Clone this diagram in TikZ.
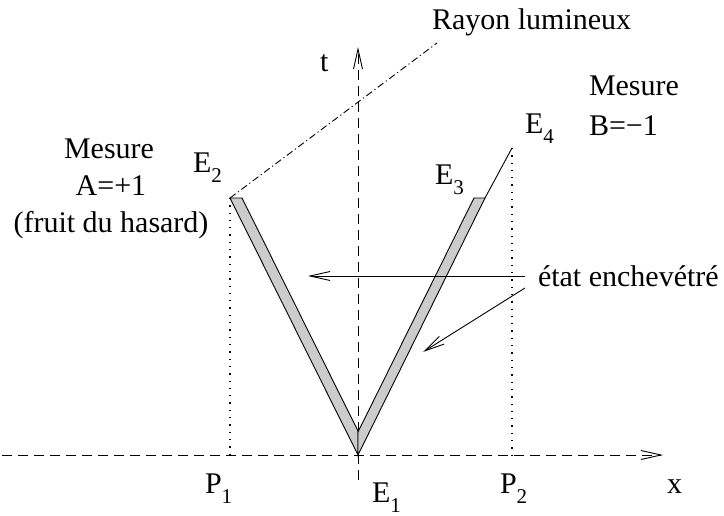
\documentclass[tikz,border=0pt]{standalone}
\usepackage{fontspec}
\setmainfont{Liberation Serif}
\usetikzlibrary{arrows.meta}
\definecolor{barfill}{RGB}{204,204,204}
\newcommand{\idx}[1]{\raisebox{-10pt}{\fontsize{21}{21}\selectfont #1}}
\begin{document}
\begin{tikzpicture}[x=1pt,y=-1pt,
  lbl/.style={anchor=base west,inner sep=0pt,outer sep=0pt,font=\fontsize{30}{36}\selectfont},
  clbl/.style={anchor=base,inner sep=0pt,outer sep=0pt,font=\fontsize{30}{36}\selectfont},
  line/.style={line width=0.9pt},
  axis/.style={line width=0.9pt,dash pattern=on 10pt off 6pt},
  tip/.style={-{Straight Barb[length=20pt,width=9pt,line width=0.9pt]}},
  dot/.style={line width=1.3pt,dash pattern=on 1.3pt off 6pt},
  ray/.style={line width=0.9pt,dash pattern=on 7pt off 3pt on 1.2pt off 3pt},
  bar/.style={line width=0.9pt,fill=barfill,line join=miter}]
\useasboundingbox (0,0) rectangle (724,516);
% key points
\coordinate (E1) at (358,455);
\coordinate (E2) at (230,198);
\coordinate (E2i) at (242,198);
\coordinate (E3) at (485,198);
\coordinate (E3i) at (474,198);
\coordinate (E4) at (512,148);
\coordinate (Li) at (358,431);
\coordinate (Ri) at (358,432);
\coordinate (P1) at (230,455);
\coordinate (P2) at (512,455);
\coordinate (xs) at (2,455);
\coordinate (xe) at (663,455);
\coordinate (ts) at (358,480);
\coordinate (te) at (358,47);
\coordinate (rayend) at (437,43);
\coordinate (a1s) at (525,276);
\coordinate (a1e) at (308,276);
\coordinate (a2s) at (525,288);
\coordinate (a2e) at (423,352);
% axes
\draw[axis,tip] (xs) -- (xe);
\draw[axis,tip] (ts) -- (te);
% dotted projections
\draw[dot] (E2) -- (P1);
\draw[dot] (E4) -- (P2);
% light ray
\draw[ray] (E2) -- (rayend);
% V bars
\draw[bar] (E2) -- (E2i) -- (Li) -- (E1) -- cycle;
\draw[bar] (E1) -- (E3) -- (E3i) -- (Ri) -- cycle;
\draw[line] (E3) -- (E4);
% arrows
\draw[line,tip] (a1s) -- (a1e);
\draw[line,tip] (a2s) -- (a2e);
% labels
\node[lbl] (lray) at (432,30) {Rayon lumineux};
\node[lbl] (lt) at (320,72) {t};
\node[lbl] (lmb) at (589,96) {Mesure};
\node[lbl] (lb) at (589,136) {B=−1};
\node[lbl] (lE4) at (525,134) {E\idx{4}};
\node[lbl] (lE3) at (435,185) {E\idx{3}};
\node[lbl] (lE2) at (193,173) {E\idx{2}};
\node[clbl] (lma) at (109,159) {Mesure};
\node[clbl] (la) at (111,196) {A=+1};
\node[clbl] (lf) at (111,233) {(fruit du hasard)};
\node[lbl] (let) at (538,287) {état enchevétré};
\node[lbl] (lP1) at (205,493) {P\idx{1}};
\node[lbl] (lE1) at (372,502) {E\idx{1}};
\node[lbl] (lP2) at (500,493) {P\idx{2}};
\node[lbl] (lx) at (667,493) {x};
\end{tikzpicture}
\end{document}
